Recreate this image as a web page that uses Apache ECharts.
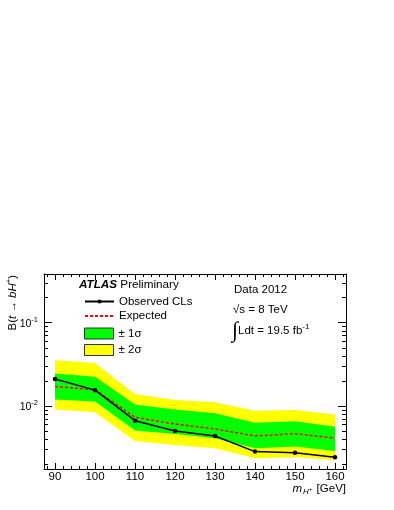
<!DOCTYPE html>
<html>
<head>
<meta charset="utf-8">
<script src="https://cdn.jsdelivr.net/npm/echarts@6/dist/echarts.min.js"></script>
<style>
html, body { margin: 0; padding: 0; background: #fff; }
#chart { width: 394px; height: 510px; }
</style>
</head>
<body>
<div id="chart"></div>
<script>
// charged Higgs mass points (GeV)
var masses = [90, 100, 110, 120, 130, 140, 150, 160];
var observed = [0.0211, 0.0155, 0.00666, 0.0050, 0.00436, 0.00283, 0.00275, 0.00242];
var expected = [0.0171, 0.0157, 0.00731, 0.00608, 0.0053, 0.00436, 0.00465, 0.0041];
var oneSigmaLo = [0.0120, 0.0113, 0.00506, 0.00461, 0.0041, 0.0031, 0.00325, 0.00288];
var oneSigmaHi = [0.0245, 0.0225, 0.0104, 0.0091, 0.0082, 0.0063, 0.00655, 0.00565];
var twoSigmaLo = [0.0091, 0.0084, 0.0038, 0.0034, 0.0031, 0.00236, 0.00242, 0.00225];
var twoSigmaHi = [0.0354, 0.0328, 0.0139, 0.0118, 0.0111, 0.00878, 0.00895, 0.0079];

var xMajor = [90, 100, 110, 120, 130, 140, 150, 160];
var xMinor = [88, 92, 94, 96, 98, 102, 104, 106, 108, 112, 114, 116, 118, 122, 124, 126, 128,
    132, 134, 136, 138, 142, 144, 146, 148, 152, 154, 156, 158, 162];
var yMajor = [0.01, 0.1];
var yMinor = [0.002, 0.003, 0.004, 0.005, 0.006, 0.007, 0.008, 0.009,
    0.02, 0.03, 0.04, 0.05, 0.06, 0.07, 0.08, 0.09, 0.2, 0.3];

var xMin = 87.25, xMax = 162.75;
var yMin = 0.00175, yMax = 0.385;
var font = 'Liberation Sans';

function xAxisDef(pos, ticks, len, withLine, withLabel) {
    return {
        type: 'value', min: xMin, max: xMax, position: pos, gridIndex: 0,
        axisLine: {show: withLine, lineStyle: {color: '#000', width: 1}},
        axisTick: {show: true, inside: true, length: len, customValues: ticks, lineStyle: {color: '#000', width: 1}},
        axisLabel: {show: withLabel, customValues: ticks, color: '#000', fontSize: 11.5, fontFamily: font, margin: 2},
        splitLine: {show: false}
    };
}

function yAxisDef(pos, ticks, len, withLine, withLabel) {
    return {
        type: 'log', logBase: 10, min: yMin, max: yMax, position: pos, gridIndex: 0,
        axisLine: {show: withLine, lineStyle: {color: '#000', width: 1}},
        axisTick: {show: true, inside: true, length: len, customValues: ticks, lineStyle: {color: '#000', width: 1}},
        axisLabel: {
            show: withLabel, customValues: ticks, color: '#000', margin: 6,
            formatter: function (v) {
                return '{b|10}{s|' + Math.round(Math.log10(v)) + '}';
            },
            rich: {
                b: {fontSize: 10.5, fontFamily: font, color: '#000', padding: [3, 0, 0, 0]},
                s: {fontSize: 7.5, fontFamily: font, color: '#000', padding: [0, 0, 6, 0]}
            }
        },
        splitLine: {show: false}
    };
}

function bandSeries(name, lo, hi, color) {
    return {
        name: name,
        type: 'custom',
        xAxisIndex: 0,
        yAxisIndex: 0,
        itemStyle: {color: color},
        data: [[masses[0], lo[0]]],
        renderItem: function (params, api) {
            var pts = [];
            for (var i = 0; i < masses.length; i++) {
                pts.push(api.coord([masses[i], hi[i]]));
            }
            for (var j = masses.length - 1; j >= 0; j--) {
                pts.push(api.coord([masses[j], lo[j]]));
            }
            return {type: 'polygon', shape: {points: pts}, style: {fill: color}};
        },
        silent: true
    };
}

function pairs(ys) {
    return masses.map(function (m, i) { return [m, ys[i]]; });
}

var chart = echarts.init(document.getElementById('chart'));
var option = {
    animation: false,
    backgroundColor: '#fff',
    textStyle: {fontFamily: font, color: '#000'},
    grid: {left: 44, right: 48, top: 274, bottom: 41, outerBoundsMode: 'none'},
    xAxis: [
        xAxisDef('bottom', xMajor, 6, true, true),
        xAxisDef('bottom', xMinor, 3, false, false),
        xAxisDef('top', xMajor, 6, true, false),
        xAxisDef('top', xMinor, 3, false, false)
    ],
    yAxis: [
        yAxisDef('left', yMajor, 8, true, true),
        yAxisDef('left', yMinor, 4, false, false),
        yAxisDef('right', yMajor, 8, true, false),
        yAxisDef('right', yMinor, 4, false, false)
    ],
    legend: [
        {
            orient: 'vertical', left: 79, top: 290.5, itemWidth: 29, itemHeight: 5, itemGap: 2.5,
            textStyle: {fontSize: 11.5, fontFamily: font, color: '#000'},
            data: [
                {name: 'Observed CLs'},
                {name: 'Expected', itemStyle: {opacity: 0}}
            ],
            selectedMode: false
        },
        {
            orient: 'vertical', left: 79, top: 322.5, itemWidth: 29, itemHeight: 11, itemGap: 4.5,
            textStyle: {fontSize: 11.5, fontFamily: font, color: '#000'},
            itemStyle: {borderColor: '#333', borderWidth: 1},
            data: [{name: '± 1σ', icon: 'rect'}, {name: '± 2σ', icon: 'rect'}],
            selectedMode: false
        }
    ],
    graphic: [
        {
            type: 'text', left: 79, top: 279,
            style: {
                text: '{a|ATLAS} Preliminary',
                fontSize: 11.7, fontFamily: font, fill: '#000',
                rich: {a: {fontSize: 11.7, fontFamily: font, fontWeight: 'bold', fontStyle: 'italic'}}
            }
        },
        {
            type: 'text', left: 234, top: 284,
            style: {text: 'Data 2012', fontSize: 11.5, fontFamily: font, fill: '#000'}
        },
        {
            type: 'text', left: 233, top: 304,
            style: {text: '√s = 8 TeV', fontSize: 11.5, fontFamily: font, fill: '#000'}
        },
        {
            type: 'text', left: 232, top: 320,
            style: {
                text: '{i|∫}Ldt = 19.5 fb{s|-1}',
                fontSize: 11.5, fontFamily: font, fill: '#000',
                rich: {
                    i: {fontSize: 22, fontFamily: 'DejaVu Sans', fontWeight: 200},
                    s: {fontSize: 8, padding: [0, 0, 9, 0]}
                }
            }
        },
        {
            type: 'text', x: 13, y: 275, rotation: Math.PI / 2,
            style: {
                text: 'B({i|t → bH}{s|+})',
                align: 'right', verticalAlign: 'middle',
                fontSize: 11.5, fontFamily: font, fill: '#000',
                rich: {
                    i: {fontSize: 11.5, fontFamily: font, fontStyle: 'italic'},
                    s: {fontSize: 7.5, fontFamily: font, padding: [0, 0, 8, 0]}
                }
            }
        },
        {
            type: 'text', right: 48, top: 483,
            style: {
                text: '{m|m}{h|H}{p|+} [GeV]',
                fontSize: 11.5, fontFamily: font, fill: '#000',
                rich: {
                    m: {fontSize: 11.5, fontFamily: font, fontStyle: 'italic'},
                    h: {fontSize: 8, fontFamily: font, fontStyle: 'italic', padding: [6, 0, 0, 1]},
                    p: {fontSize: 6, fontFamily: font, padding: [0, 1, 0, 0]}
                }
            }
        }
    ],
    series: [
        bandSeries('± 2σ', twoSigmaLo, twoSigmaHi, '#ffff00'),
        bandSeries('± 1σ', oneSigmaLo, oneSigmaHi, '#00ff00'),
        {
            name: 'Expected',
            type: 'line',
            xAxisIndex: 0,
            yAxisIndex: 0,
            data: pairs(expected),
            symbol: 'none',
            lineStyle: {color: '#ff0000', width: 1.5, type: [3, 2]},
            itemStyle: {color: '#ff0000'},
            silent: true
        },
        {
            name: 'Observed CLs',
            type: 'line',
            xAxisIndex: 0,
            yAxisIndex: 0,
            data: pairs(observed),
            symbol: 'circle',
            symbolSize: 4.5,
            lineStyle: {color: '#000', width: 1.5},
            itemStyle: {color: '#000'},
            silent: true
        }
    ]
};
chart.setOption(option);
</script>
</body>
</html>
